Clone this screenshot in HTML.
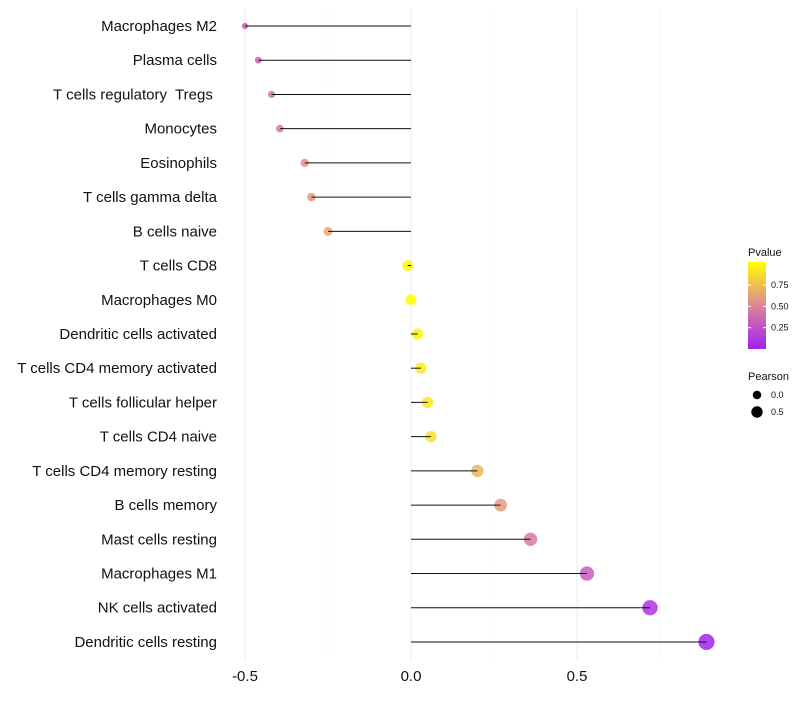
<!DOCTYPE html>
<html><head><meta charset="utf-8"><style>
body{margin:0;background:#fff;}
svg{font-family:"Liberation Sans",Arial,sans-serif;}
text{white-space:pre;}
</style></head><body>
<svg id="chart" width="800" height="700"></svg>
<script>
const categories=["Macrophages M2","Plasma cells","T cells regulatory  Tregs ","Monocytes","Eosinophils","T cells gamma delta","B cells naive","T cells CD8","Macrophages M0","Dendritic cells activated","T cells CD4 memory activated","T cells follicular helper","T cells CD4 naive","T cells CD4 memory resting","B cells memory","Mast cells resting","Macrophages M1","NK cells activated","Dendritic cells resting"];
const pearson=[-0.50,-0.46,-0.42,-0.395,-0.32,-0.30,-0.25,-0.01,0.00,0.02,0.03,0.05,0.06,0.20,0.27,0.36,0.53,0.72,0.89];
const pvalues=[0.30,0.35,0.42,0.44,0.55,0.58,0.64,0.97,1.0,0.95,0.92,0.90,0.88,0.70,0.60,0.45,0.30,0.10,0.02];
const xTicks=[-0.5,0,0.5];
const xTickLabels=["-0.5","0.0","0.5"];
const xMinor=[-0.25,0.25,0.75];
const legendTicks=[0.25,0.5,0.75];
const NS="http://www.w3.org/2000/svg";
const svg=document.getElementById('chart');
function X(v){return 411+v*332;}
function Y(i){return 26+i*34.22;}
function mk(t,a,p){const e=document.createElementNS(NS,t);for(const k in a)e.setAttribute(k,a[k]);(p||svg).appendChild(e);return e;}
function lerp(a,b,t){return Math.round(a+(b-a)*t);}
function col(p){const s=[[160,32,240],[220,133,153],[255,255,0]];let t=p*2,i=0;if(t>1){i=1;t-=1;}const a=s[i],b=s[i+1];return `rgb(${lerp(a[0],b[0],t)},${lerp(a[1],b[1],t)},${lerp(a[2],b[2],t)})`;}
xMinor.forEach(v=>{const l=mk('line',{x1:X(v),x2:X(v),y1:8,y2:660,stroke:'#f3f3f3','stroke-width':0.6});
});
xTicks.forEach((v,i)=>{const l=mk('line',{x1:X(v),x2:X(v),y1:8,y2:660,stroke:'#ebebeb','stroke-width':1});

const t=mk('text',{x:X(v),y:681,'text-anchor':'middle','font-size':15,fill:'#111'});t.textContent=xTickLabels[i];
});
categories.forEach((c,i)=>{const y=Y(i),v=pearson[i];
const t=mk('text',{x:217,y:y+5,'text-anchor':'end','font-size':15,fill:'#111'});t.textContent=c;

const r=Math.sqrt(Math.max(2.6,30+40*v));
const d=mk('circle',{cx:X(v),cy:y,r:r,fill:col(pvalues[i]),'fill-opacity':0.85});

const l=mk('line',{x1:X(0),x2:X(v),y1:y,y2:y,stroke:'#111','stroke-width':1});
});
const g=mk('g',{});
const defs=mk('defs',{});const lg=mk('linearGradient',{id:'pg',x1:0,y1:1,x2:0,y2:0},defs);
[0,0.25,0.5,0.75,1].forEach(p=>mk('stop',{offset:p,'stop-color':col(p)},lg));
let tt=mk('text',{x:748,y:256,'font-size':11,fill:'#111'},g);tt.textContent='Pvalue';
const bar=mk('rect',{x:748,y:262,width:18,height:87,fill:'url(#pg)'},g);

legendTicks.forEach(p=>{const y=349-p*87*0.98;mk('line',{x1:748,x2:751,y1:y,y2:y,stroke:'#fff'},g);mk('line',{x1:763,x2:766,y1:y,y2:y,stroke:'#fff'},g);
const t=mk('text',{x:771,y:y+3,'font-size':9,fill:'#111'},g);t.textContent=p.toFixed(2);});
tt=mk('text',{x:748,y:380,'font-size':11,fill:'#111'},g);tt.textContent='Pearson';
[[0,395],[0.5,412]].forEach(([v,y])=>{mk('circle',{cx:757,cy:y,r:Math.sqrt(25+40*v)*0.85,fill:'#000'},g);
const t=mk('text',{x:771,y:y+3,'font-size':9,fill:'#111'},g);t.textContent=v.toFixed(1);});
</script>
</body></html>
